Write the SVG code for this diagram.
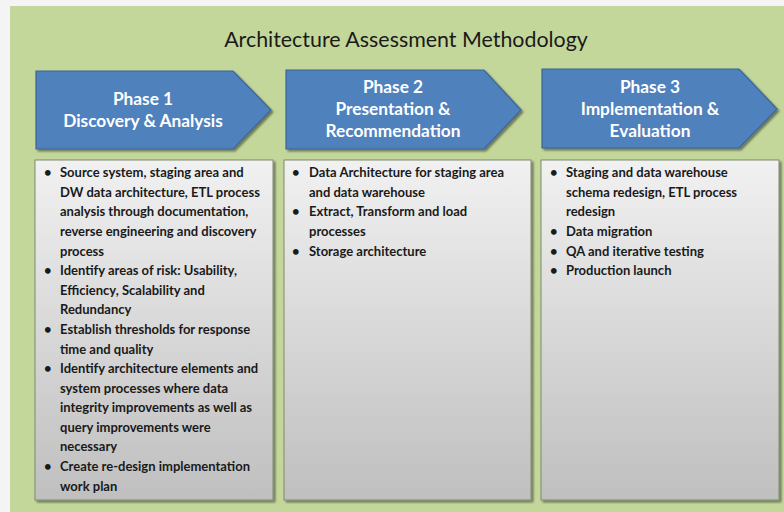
<svg xmlns="http://www.w3.org/2000/svg" width="784" height="512" viewBox="0 0 784 512">
<defs>
<linearGradient id="boxg" x1="0" y1="0" x2="0" y2="1">
<stop offset="0" stop-color="#f1f1f1"/>
<stop offset="1" stop-color="#bfbfbf"/>
</linearGradient>
<filter id="sh" x="-5%" y="-5%" width="115%" height="115%">
<feGaussianBlur in="SourceAlpha" stdDeviation="1.2"/>
<feOffset dx="1.5" dy="2" result="b"/>
<feComponentTransfer><feFuncA type="linear" slope="0.45"/></feComponentTransfer>
<feMerge><feMergeNode/><feMergeNode in="SourceGraphic"/></feMerge>
</filter>
</defs>
<style>
.arrow{fill:#4f81bd;stroke:#3b6595;stroke-width:1.2}
.box{fill:url(#boxg);stroke:#7f8a70;stroke-width:1}
.ph{font-family:Lato,"Open Sans",sans-serif;font-weight:bold;font-size:17.3px;fill:#ffffff;text-anchor:middle}
.bt{font-family:Lato,"Open Sans",sans-serif;font-weight:bold;font-size:13px;fill:#1a1a1a}
.title{font-family:Lato,"Open Sans",sans-serif;font-size:21.4px;fill:#1a1a1a;text-anchor:middle}
</style>
<rect x="0" y="0" width="784" height="512" fill="#f4f4f4"/>
<rect x="10" y="6" width="774" height="506" fill="#c4d79b"/>
<text class="title" x="406" y="47">Architecture Assessment Methodology</text>

<g id="phase1">
<path class="arrow" filter="url(#sh)" d="M36,71 H233 L271,110 L233,149 H36 Z"/>
<text class="ph" x="143" y="105">Phase 1</text>
<text class="ph" x="143" y="127">Discovery &amp; Analysis</text>
</g>
<g id="phase2">
<path class="arrow" filter="url(#sh)" d="M286,70 H484 L521,110 L484,149 H286 Z"/>
<text class="ph" x="393" y="93">Phase 2</text>
<text class="ph" x="393" y="115">Presentation &amp;</text>
<text class="ph" x="393" y="137">Recommendation</text>
</g>
<g id="phase3">
<path class="arrow" filter="url(#sh)" d="M542,69 H739 L777,109 L739,148 H542 Z"/>
<text class="ph" x="650" y="93">Phase 3</text>
<text class="ph" x="650" y="115">Implementation &amp;</text>
<text class="ph" x="650" y="137">Evaluation</text>
</g>

<g id="box1">
<rect class="box" filter="url(#sh)" x="35" y="160" width="238" height="340"/>
<g class="bt">
<text x="44" y="177">•</text><text x="60" y="177">Source system, staging area and</text>
<text x="60" y="197">DW data architecture, ETL process</text>
<text x="60" y="216">analysis through documentation,</text>
<text x="60" y="236">reverse engineering and discovery</text>
<text x="60" y="256">process</text>
<text x="44" y="275">•</text><text x="60" y="275">Identify areas of risk: Usability,</text>
<text x="60" y="295">Efficiency, Scalability and</text>
<text x="60" y="314">Redundancy</text>
<text x="44" y="334">•</text><text x="60" y="334">Establish thresholds for response</text>
<text x="60" y="354">time and quality</text>
<text x="44" y="373">•</text><text x="60" y="373">Identify architecture elements and</text>
<text x="60" y="393">system processes where data</text>
<text x="60" y="412">integrity improvements as well as</text>
<text x="60" y="432">query improvements were</text>
<text x="60" y="451">necessary</text>
<text x="44" y="471">•</text><text x="60" y="471">Create re-design implementation</text>
<text x="60" y="491">work plan</text>
</g>
</g>

<g id="box2">
<rect class="box" filter="url(#sh)" x="284" y="160" width="247" height="340"/>
<g class="bt">
<text x="292" y="177">•</text><text x="309" y="177">Data Architecture for staging area</text>
<text x="309" y="197">and data warehouse</text>
<text x="292" y="216">•</text><text x="309" y="216">Extract, Transform and load</text>
<text x="309" y="236">processes</text>
<text x="292" y="256">•</text><text x="309" y="256">Storage architecture</text>
</g>
</g>

<g id="box3">
<rect class="box" filter="url(#sh)" x="541" y="160" width="238" height="340"/>
<g class="bt">
<text x="550" y="177">•</text><text x="566" y="177">Staging and data warehouse</text>
<text x="566" y="197">schema redesign, ETL process</text>
<text x="566" y="216">redesign</text>
<text x="550" y="236">•</text><text x="566" y="236">Data migration</text>
<text x="550" y="256">•</text><text x="566" y="256">QA and iterative testing</text>
<text x="550" y="275">•</text><text x="566" y="275">Production launch</text>
</g>
</g>
<g id="connectors"/>
</svg>
